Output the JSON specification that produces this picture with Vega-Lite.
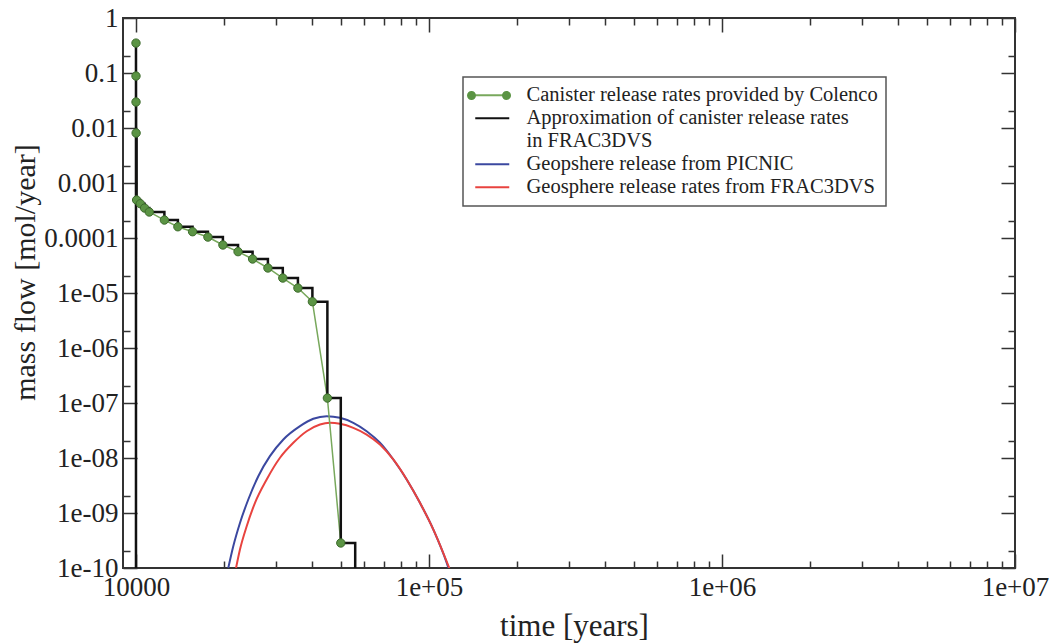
{
  "$schema": "https://vega.github.io/schema/vega-lite/v6.json",
  "width": 892,
  "height": 550,
  "autosize": {"type": "none"},
  "padding": {"left": 123, "top": 18, "right": 41, "bottom": 75},
  "background": "white",
  "datasets": {
    "colenco": [
      {"t": 10000, "v": 0.35, "series": "Canister release rates provided by Colenco"},
      {"t": 10001, "v": 0.088, "series": "Canister release rates provided by Colenco"},
      {"t": 10003, "v": 0.0297, "series": "Canister release rates provided by Colenco"},
      {"t": 10010, "v": 0.0081, "series": "Canister release rates provided by Colenco"},
      {"t": 10050, "v": 0.00049, "series": "Canister release rates provided by Colenco"},
      {"t": 10350, "v": 0.00042, "series": "Canister release rates provided by Colenco"},
      {"t": 10700, "v": 0.00035, "series": "Canister release rates provided by Colenco"},
      {"t": 11100, "v": 0.000297, "series": "Canister release rates provided by Colenco"},
      {"t": 12500, "v": 0.000212, "series": "Canister release rates provided by Colenco"},
      {"t": 13900, "v": 0.00016, "series": "Canister release rates provided by Colenco"},
      {"t": 15600, "v": 0.00013, "series": "Canister release rates provided by Colenco"},
      {"t": 17600, "v": 0.000104, "series": "Canister release rates provided by Colenco"},
      {"t": 19800, "v": 0.0000746, "series": "Canister release rates provided by Colenco"},
      {"t": 22300, "v": 0.0000564, "series": "Canister release rates provided by Colenco"},
      {"t": 25000, "v": 0.0000415, "series": "Canister release rates provided by Colenco"},
      {"t": 28200, "v": 0.0000285, "series": "Canister release rates provided by Colenco"},
      {"t": 31700, "v": 0.0000187, "series": "Canister release rates provided by Colenco"},
      {"t": 35700, "v": 0.0000123, "series": "Canister release rates provided by Colenco"},
      {"t": 40000, "v": 0.00000695, "series": "Canister release rates provided by Colenco"},
      {"t": 45000, "v": 1.23e-7, "series": "Canister release rates provided by Colenco"},
      {"t": 50000, "v": 2.85e-10, "series": "Canister release rates provided by Colenco"}
    ],
    "approx": [
      {"t": 10000, "v": 1e-12, "series": "Approximation of canister release rates in FRAC3DVS"},
      {"t": 10000, "v": 0.35, "series": "Approximation of canister release rates in FRAC3DVS"},
      {"t": 10001, "v": 0.088, "series": "Approximation of canister release rates in FRAC3DVS"},
      {"t": 10003, "v": 0.0297, "series": "Approximation of canister release rates in FRAC3DVS"},
      {"t": 10010, "v": 0.0081, "series": "Approximation of canister release rates in FRAC3DVS"},
      {"t": 10050, "v": 0.00049, "series": "Approximation of canister release rates in FRAC3DVS"},
      {"t": 10350, "v": 0.00042, "series": "Approximation of canister release rates in FRAC3DVS"},
      {"t": 10700, "v": 0.00035, "series": "Approximation of canister release rates in FRAC3DVS"},
      {"t": 11100, "v": 0.000297, "series": "Approximation of canister release rates in FRAC3DVS"},
      {"t": 12500, "v": 0.000212, "series": "Approximation of canister release rates in FRAC3DVS"},
      {"t": 13900, "v": 0.00016, "series": "Approximation of canister release rates in FRAC3DVS"},
      {"t": 15600, "v": 0.00013, "series": "Approximation of canister release rates in FRAC3DVS"},
      {"t": 17600, "v": 0.000104, "series": "Approximation of canister release rates in FRAC3DVS"},
      {"t": 19800, "v": 0.0000746, "series": "Approximation of canister release rates in FRAC3DVS"},
      {"t": 22300, "v": 0.0000564, "series": "Approximation of canister release rates in FRAC3DVS"},
      {"t": 25000, "v": 0.0000415, "series": "Approximation of canister release rates in FRAC3DVS"},
      {"t": 28200, "v": 0.0000285, "series": "Approximation of canister release rates in FRAC3DVS"},
      {"t": 31700, "v": 0.0000187, "series": "Approximation of canister release rates in FRAC3DVS"},
      {"t": 35700, "v": 0.0000123, "series": "Approximation of canister release rates in FRAC3DVS"},
      {"t": 40000, "v": 0.00000695, "series": "Approximation of canister release rates in FRAC3DVS"},
      {"t": 45000, "v": 1.23e-7, "series": "Approximation of canister release rates in FRAC3DVS"},
      {"t": 50000, "v": 2.85e-10, "series": "Approximation of canister release rates in FRAC3DVS"},
      {"t": 56000, "v": 1e-12, "series": "Approximation of canister release rates in FRAC3DVS"}
    ],
    "picnic": [
      {"t": 20650, "v": 1.0e-10, "series": "Geopshere release from PICNIC"},
      {"t": 21480, "v": 2.49e-10, "series": "Geopshere release from PICNIC"},
      {"t": 22640, "v": 6.6e-10, "series": "Geopshere release from PICNIC"},
      {"t": 24170, "v": 1.76e-9, "series": "Geopshere release from PICNIC"},
      {"t": 26150, "v": 4.67e-9, "series": "Geopshere release from PICNIC"},
      {"t": 28650, "v": 1.08e-8, "series": "Geopshere release from PICNIC"},
      {"t": 31840, "v": 2.17e-8, "series": "Geopshere release from PICNIC"},
      {"t": 36290, "v": 3.79e-8, "series": "Geopshere release from PICNIC"},
      {"t": 40280, "v": 5.16e-8, "series": "Geopshere release from PICNIC"},
      {"t": 44770, "v": 5.75e-8, "series": "Geopshere release from PICNIC"},
      {"t": 49680, "v": 5.38e-8, "series": "Geopshere release from PICNIC"},
      {"t": 55170, "v": 4.37e-8, "series": "Geopshere release from PICNIC"},
      {"t": 61270, "v": 3.07e-8, "series": "Geopshere release from PICNIC"},
      {"t": 68030, "v": 1.89e-8, "series": "Geopshere release from PICNIC"},
      {"t": 75540, "v": 9.4e-9, "series": "Geopshere release from PICNIC"},
      {"t": 83930, "v": 4.07e-9, "series": "Geopshere release from PICNIC"},
      {"t": 93160, "v": 1.53e-9, "series": "Geopshere release from PICNIC"},
      {"t": 103500, "v": 5.0e-10, "series": "Geopshere release from PICNIC"},
      {"t": 114900, "v": 1.25e-10, "series": "Geopshere release from PICNIC"},
      {"t": 116500, "v": 1.0e-10, "series": "Geopshere release from PICNIC"}
    ],
    "frac": [
      {"t": 21950, "v": 1.0e-10, "series": "Geosphere release rates from FRAC3DVS"},
      {"t": 22640, "v": 2.17e-10, "series": "Geosphere release rates from FRAC3DVS"},
      {"t": 23870, "v": 5.75e-10, "series": "Geosphere release rates from FRAC3DVS"},
      {"t": 25480, "v": 1.53e-9, "series": "Geosphere release rates from FRAC3DVS"},
      {"t": 27930, "v": 4.07e-9, "series": "Geosphere release rates from FRAC3DVS"},
      {"t": 31010, "v": 1.01e-8, "series": "Geosphere release rates from FRAC3DVS"},
      {"t": 34430, "v": 1.89e-8, "series": "Geosphere release rates from FRAC3DVS"},
      {"t": 38240, "v": 3.07e-8, "series": "Geosphere release rates from FRAC3DVS"},
      {"t": 42460, "v": 4.07e-8, "series": "Geosphere release rates from FRAC3DVS"},
      {"t": 45920, "v": 4.37e-8, "series": "Geosphere release rates from FRAC3DVS"},
      {"t": 49680, "v": 4.19e-8, "series": "Geosphere release rates from FRAC3DVS"},
      {"t": 55170, "v": 3.54e-8, "series": "Geosphere release rates from FRAC3DVS"},
      {"t": 61270, "v": 2.67e-8, "series": "Geosphere release rates from FRAC3DVS"},
      {"t": 68030, "v": 1.76e-8, "series": "Geosphere release rates from FRAC3DVS"},
      {"t": 75540, "v": 9.4e-9, "series": "Geosphere release rates from FRAC3DVS"},
      {"t": 83930, "v": 4.07e-9, "series": "Geosphere release rates from FRAC3DVS"},
      {"t": 93160, "v": 1.53e-9, "series": "Geosphere release rates from FRAC3DVS"},
      {"t": 103500, "v": 5.0e-10, "series": "Geosphere release rates from FRAC3DVS"},
      {"t": 117300, "v": 1.0e-10, "series": "Geosphere release rates from FRAC3DVS"}
    ]
  },
  "config": {
    "view": {"stroke": "#333", "strokeWidth": 2},
    "axis": {
      "domain": false,
      "grid": false,
      "labelFont": "Liberation Serif",
      "labelFontSize": 27,
      "labelColor": "#222",
      "titleFont": "Liberation Serif",
      "titleFontSize": 30,
      "titleFontWeight": "normal",
      "titleColor": "#222",
      "tickColor": "#333",
      "tickWidth": 1.5,
      "labelOverlap": false,
      "labelFlush": false,
      "labelBound": false
    },
    "legend": {"strokeWidth": 1.5}
  },
  "resolve": {"axis": {"x": "independent", "y": "independent"}},
  "layer": [
    {
      "data": {"name": "picnic"},
      "mark": {"type": "line", "strokeWidth": 2, "clip": true, "interpolate": "monotone"},
      "encoding": {
        "x": {
          "field": "t", "type": "quantitative",
          "scale": {"type": "log", "domain": [9030, 10000000], "nice": false},
          "axis": {
            "orient": "bottom", "values": [10000, 100000, 1000000, 10000000], "ticks": false,
            "labelPadding": 6,
            "labelExpr": "datum.value < 50000 ? '10000' : '1e+0' + round(log(datum.value) / LN10)",
            "title": "time [years]", "titleFontSize": 31, "titleX": 451, "titleY": 58, "titleBaseline": "middle", "titleAlign": "center"
          }
        },
        "y": {
          "field": "v", "type": "quantitative",
          "scale": {"type": "log", "domain": [1e-10, 1], "nice": false},
          "axis": {
            "orient": "left", "values": [1, 0.1, 0.01, 0.001, 0.0001, 1e-5, 1e-6, 1e-7, 1e-8, 1e-9, 1e-10], "ticks": false,
            "labelPadding": 5, "labelBaseline": "middle",
            "labelExpr": "datum.value >= 0.0001 ? '' + datum.value : '1e-' + (round(-log(datum.value) / LN10) < 10 ? '0' : '') + round(-log(datum.value) / LN10)",
            "title": "mass flow [mol/year]", "titleX": -98, "titleY": 254, "titleBaseline": "middle", "titleAlign": "center", "titleAngle": -90
          }
        },
        "color": {
          "field": "series", "type": "nominal",
          "scale": {
            "domain": ["Canister release rates provided by Colenco", "Approximation of canister release rates in FRAC3DVS", "Geopshere release from PICNIC", "Geosphere release rates from FRAC3DVS"],
            "range": ["#78a85c", "#111111", "#3b48a0", "#e8433f"]
          },
          "legend": {
            "title": null, "orient": "none", "legendX": 340, "legendY": 59,
            "padding": 8, "strokeColor": "#555", "fillColor": "white",
            "labelFont": "Liberation Serif", "labelFontSize": 20.5, "labelColor": "#222", "labelLimit": 1000, "labelOffset": 35,
            "symbolSize": 256, "rowPadding": 2, "symbolType": "M-0.75,0L3.5,0", "symbolStrokeWidth": 2,
            "labelExpr": "datum.label === 'Approximation of canister release rates in FRAC3DVS' ? ['Approximation of canister release rates', 'in FRAC3DVS'] : datum.label"
          }
        }
      }
    },
    {
      "data": {"name": "frac"},
      "mark": {"type": "line", "strokeWidth": 2, "clip": true, "interpolate": "monotone"},
      "encoding": {
        "x": {
          "field": "t", "type": "quantitative",
          "axis": {"orient": "bottom", "values": [10000, 100000, 1000000, 10000000], "labels": false, "tickSize": -14, "title": null}
        },
        "y": {
          "field": "v", "type": "quantitative",
          "axis": {"orient": "left", "values": [1, 0.1, 0.01, 0.001, 0.0001, 1e-5, 1e-6, 1e-7, 1e-8, 1e-9, 1e-10], "labels": false, "tickSize": -14, "title": null}
        },
        "color": {"field": "series", "type": "nominal"}
      }
    },
    {
      "data": {"name": "colenco"},
      "mark": {"type": "line", "strokeWidth": 1.5, "clip": true},
      "encoding": {
        "x": {
          "field": "t", "type": "quantitative",
          "axis": {"orient": "bottom", "values": [20000, 30000, 40000, 50000, 60000, 70000, 80000, 90000, 200000, 300000, 400000, 500000, 600000, 700000, 800000, 900000, 2000000, 3000000, 4000000, 5000000, 6000000, 7000000, 8000000, 9000000], "labels": false, "tickSize": -7, "title": null}
        },
        "y": {
          "field": "v", "type": "quantitative",
          "axis": {"orient": "left", "values": [0.2, 0.02, 0.002, 0.0002, 2e-5, 2e-6, 2e-7, 2e-8, 2e-9, 2e-10], "labels": false, "tickSize": -7, "title": null}
        },
        "color": {"field": "series", "type": "nominal"}
      }
    },
    {
      "data": {"name": "approx"},
      "mark": {"type": "line", "strokeWidth": 2.5, "clip": true, "interpolate": "step-after"},
      "encoding": {
        "x": {
          "field": "t", "type": "quantitative",
          "axis": {"orient": "top", "values": [10000, 100000, 1000000, 10000000], "labels": false, "tickSize": -14, "title": null}
        },
        "y": {
          "field": "v", "type": "quantitative",
          "axis": {"orient": "right", "values": [1, 0.1, 0.01, 0.001, 0.0001, 1e-5, 1e-6, 1e-7, 1e-8, 1e-9, 1e-10], "labels": false, "tickSize": -14, "title": null}
        },
        "color": {"field": "series", "type": "nominal"}
      }
    },
    {
      "data": {"name": "colenco"},
      "mark": {"type": "point", "filled": true, "size": 70, "color": "#5b9444", "stroke": "#3d6b2c", "strokeWidth": 1, "clip": true},
      "encoding": {
        "x": {
          "field": "t", "type": "quantitative",
          "axis": {"orient": "top", "values": [20000, 30000, 40000, 50000, 60000, 70000, 80000, 90000, 200000, 300000, 400000, 500000, 600000, 700000, 800000, 900000, 2000000, 3000000, 4000000, 5000000, 6000000, 7000000, 8000000, 9000000], "labels": false, "tickSize": -7, "title": null}
        },
        "y": {
          "field": "v", "type": "quantitative",
          "axis": {"orient": "right", "values": [0.2, 0.02, 0.002, 0.0002, 2e-5, 2e-6, 2e-7, 2e-8, 2e-9, 2e-10], "labels": false, "tickSize": -7, "title": null}
        },
        "opacity": {
          "field": "series", "type": "ordinal",
          "scale": {"range": [1, 1]},
          "legend": {
            "title": null, "orient": "none", "legendX": 347, "legendY": 69,
            "padding": 0, "strokeColor": null, "fillColor": null,
            "symbolSize": 256, "symbolFillColor": "#5b9444", "symbolStrokeColor": "#5b9444", "symbolStrokeWidth": 1,
            "symbolType": "M-0.3125,0A0.5625,0.5625,0,1,1,-1.4375,0A0.5625,0.5625,0,1,1,-0.3125,0ZM4.0625,0A0.5625,0.5625,0,1,1,2.9375,0A0.5625,0.5625,0,1,1,4.0625,0Z",
            "labelExpr": "''", "labelFontSize": 10, "labelOffset": 0
          }
        }
      }
    }
  ]
}
